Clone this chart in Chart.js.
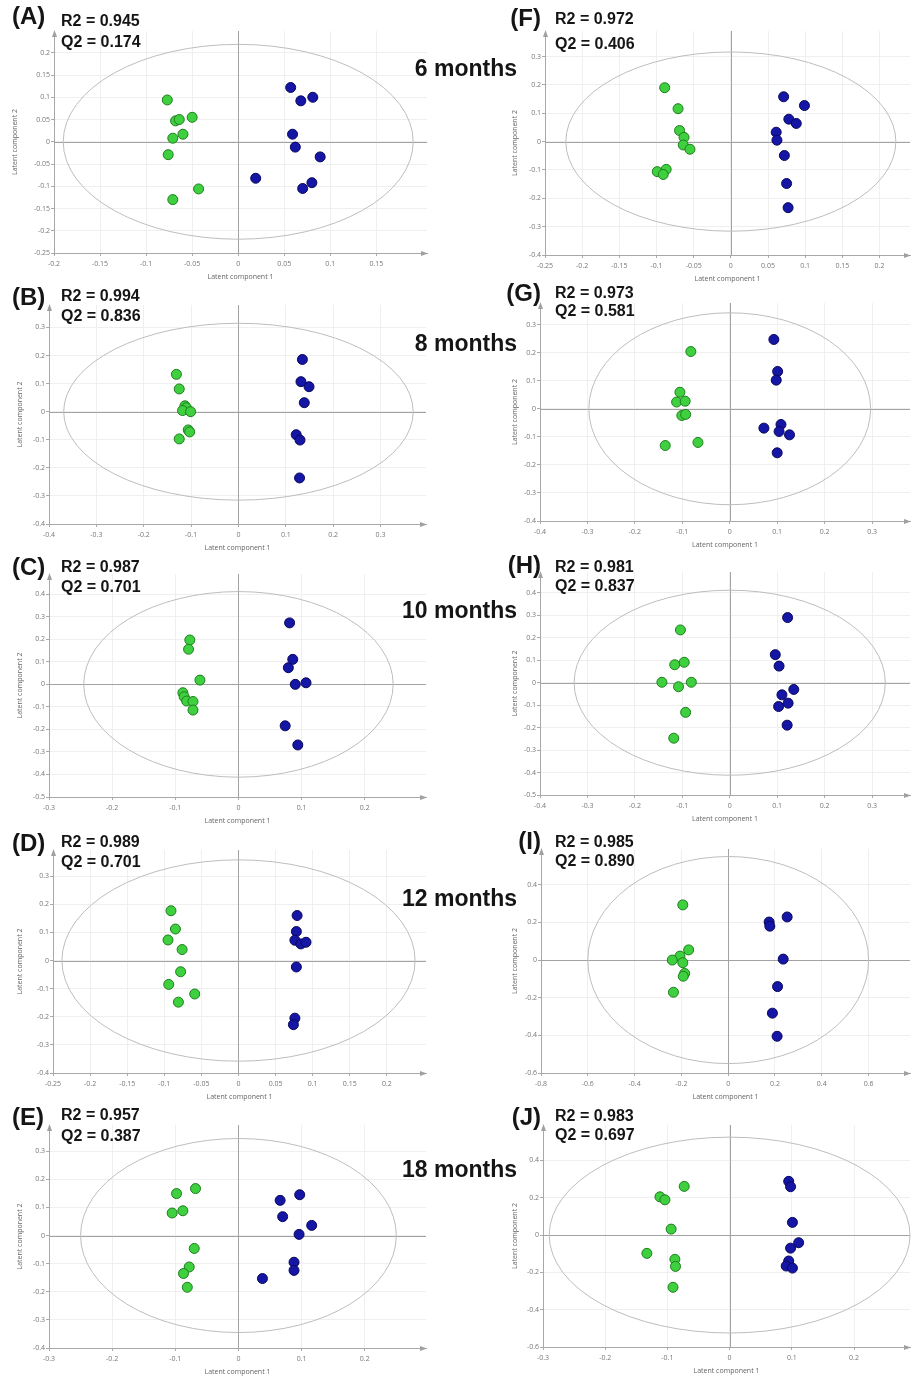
<!DOCTYPE html>
<html>
<head>
<meta charset="utf-8">
<title>PLS-DA score plots</title>
<script src="https://cdn.jsdelivr.net/npm/chart.js@4.4.1/dist/chart.umd.min.js"></script>
<style>
  body { margin: 0; background: #fff; width: 916px; height: 1379px; position: relative; overflow: hidden;
         font-family: "Liberation Sans", Arial, sans-serif; }
  canvas { position: absolute; }
  .txt { position: absolute; font-weight: bold; color: #151515; white-space: nowrap; line-height: 1; z-index: 2; }
  .letter { font-size: 24px; }
  .stat { font-size: 16px; }
  .month { font-size: 23px; text-align: right; }
</style>
</head>
<body>
<script>
// ---- data ----
var panelNames = ['A', 'B', 'C', 'D', 'E', 'F', 'G', 'H', 'I', 'J'];
var r2Values = ['0.945', '0.994', '0.987', '0.989', '0.957', '0.972', '0.973', '0.981', '0.985', '0.983'];
var q2Values = ['0.174', '0.836', '0.701', '0.701', '0.387', '0.406', '0.581', '0.837', '0.890', '0.697'];
var monthLabels = ['6 months', '8 months', '10 months', '12 months', '18 months'];
var xTitle = 'Latent component 1';
var yTitle = 'Latent component 2';

// green group / blue group scores, [component 1, component 2]
var greenA = [[-0.077, 0.094], [-0.068, 0.047], [-0.064, 0.050], [-0.050, 0.055], [-0.060, 0.017], [-0.071, 0.008], [-0.076, -0.029], [-0.043, -0.106], [-0.071, -0.130]];
var blueA  = [[0.057, 0.122], [0.068, 0.092], [0.081, 0.100], [0.059, 0.017], [0.062, -0.012], [0.089, -0.034], [0.019, -0.082], [0.080, -0.092], [0.070, -0.105]];
var greenB = [[-0.131, 0.133], [-0.125, 0.081], [-0.113, 0.021], [-0.110, 0.014], [-0.118, 0.004], [-0.101, 0.000], [-0.106, -0.065], [-0.103, -0.072], [-0.125, -0.097]];
var blueB  = [[0.135, 0.186], [0.132, 0.107], [0.149, 0.089], [0.139, 0.032], [0.122, -0.082], [0.130, -0.101], [0.129, -0.236]];
var greenC = [[-0.077, 0.197], [-0.079, 0.156], [-0.061, 0.019], [-0.088, -0.037], [-0.086, -0.055], [-0.082, -0.074], [-0.072, -0.076], [-0.072, -0.114]];
var blueC  = [[0.081, 0.273], [0.086, 0.111], [0.079, 0.074], [0.090, 0.000], [0.107, 0.007], [0.074, -0.184], [0.094, -0.269]];
var greenD = [[-0.091, 0.177], [-0.085, 0.112], [-0.095, 0.073], [-0.076, 0.039], [-0.078, -0.040], [-0.094, -0.085], [-0.059, -0.119], [-0.081, -0.148]];
var blueD  = [[0.079, 0.160], [0.078, 0.103], [0.076, 0.072], [0.084, 0.059], [0.091, 0.065], [0.078, -0.023], [0.076, -0.205], [0.074, -0.228]];
var greenE = [[-0.098, 0.149], [-0.068, 0.167], [-0.105, 0.080], [-0.088, 0.088], [-0.070, -0.046], [-0.078, -0.112], [-0.087, -0.135], [-0.081, -0.184]];
var blueE  = [[0.066, 0.125], [0.097, 0.145], [0.070, 0.067], [0.116, 0.036], [0.096, 0.004], [0.088, -0.095], [0.088, -0.124], [0.038, -0.153]];
var greenF = [[-0.089, 0.190], [-0.071, 0.116], [-0.069, 0.039], [-0.063, 0.015], [-0.064, -0.012], [-0.055, -0.027], [-0.099, -0.106], [-0.087, -0.098], [-0.091, -0.116]];
var blueF  = [[0.071, 0.158], [0.099, 0.127], [0.078, 0.079], [0.088, 0.064], [0.061, 0.033], [0.062, 0.005], [0.072, -0.049], [0.075, -0.148], [0.077, -0.233]];
var greenG = [[-0.082, 0.204], [-0.105, 0.059], [-0.112, 0.024], [-0.094, 0.027], [-0.101, -0.024], [-0.093, -0.020], [-0.136, -0.131], [-0.067, -0.120]];
var blueG  = [[0.093, 0.247], [0.101, 0.133], [0.098, 0.102], [0.072, -0.069], [0.108, -0.056], [0.104, -0.081], [0.126, -0.093], [0.100, -0.157]];
var greenH = [[-0.104, 0.235], [-0.116, 0.080], [-0.096, 0.091], [-0.143, 0.002], [-0.081, 0.002], [-0.108, -0.018], [-0.093, -0.132], [-0.118, -0.247]];
var blueH  = [[0.122, 0.290], [0.096, 0.125], [0.104, 0.074], [0.135, -0.030], [0.110, -0.054], [0.123, -0.091], [0.103, -0.106], [0.121, -0.189]];
var greenI = [[-0.194, 0.293], [-0.169, 0.054], [-0.206, 0.021], [-0.239, 0.000], [-0.194, -0.014], [-0.186, -0.071], [-0.192, -0.086], [-0.234, -0.171]];
var blueI  = [[0.175, 0.202], [0.178, 0.180], [0.252, 0.229], [0.235, 0.005], [0.211, -0.141], [0.189, -0.282], [0.209, -0.405]];
var greenJ = [[-0.073, 0.261], [-0.112, 0.205], [-0.104, 0.189], [-0.094, 0.032], [-0.133, -0.098], [-0.088, -0.130], [-0.087, -0.168], [-0.091, -0.280]];
var blueJ  = [[0.095, 0.288], [0.098, 0.259], [0.101, 0.068], [0.111, -0.041], [0.098, -0.070], [0.095, -0.139], [0.091, -0.166], [0.101, -0.177]];

// Hotelling ellipse half-axes per panel [component 1, component 2]
var ellipseAxes = [[0.190, 0.219], [0.369, 0.315], [0.245, 0.412], [0.238, 0.358], [0.250, 0.345],
                   [0.222, 0.316], [0.297, 0.342], [0.328, 0.412], [0.600, 0.550], [0.290, 0.525]];

// tick labels shown on each axis
var xTicks = [
  [-0.2, -0.15, -0.1, -0.05, 0, 0.05, 0.1, 0.15],
  [-0.4, -0.3, -0.2, -0.1, 0, 0.1, 0.2, 0.3],
  [-0.3, -0.2, -0.1, 0, 0.1, 0.2],
  [-0.25, -0.2, -0.15, -0.1, -0.05, 0, 0.05, 0.1, 0.15, 0.2],
  [-0.3, -0.2, -0.1, 0, 0.1, 0.2],
  [-0.25, -0.2, -0.15, -0.1, -0.05, 0, 0.05, 0.1, 0.15, 0.2],
  [-0.4, -0.3, -0.2, -0.1, 0, 0.1, 0.2, 0.3],
  [-0.4, -0.3, -0.2, -0.1, 0, 0.1, 0.2, 0.3],
  [-0.8, -0.6, -0.4, -0.2, 0, 0.2, 0.4, 0.6],
  [-0.3, -0.2, -0.1, 0, 0.1, 0.2]
];
var yTicks = [
  [-0.25, -0.2, -0.15, -0.1, -0.05, 0, 0.05, 0.1, 0.15, 0.2],
  [-0.4, -0.3, -0.2, -0.1, 0, 0.1, 0.2, 0.3],
  [-0.5, -0.4, -0.3, -0.2, -0.1, 0, 0.1, 0.2, 0.3, 0.4],
  [-0.4, -0.3, -0.2, -0.1, 0, 0.1, 0.2, 0.3],
  [-0.4, -0.3, -0.2, -0.1, 0, 0.1, 0.2, 0.3],
  [-0.4, -0.3, -0.2, -0.1, 0, 0.1, 0.2, 0.3],
  [-0.4, -0.3, -0.2, -0.1, 0, 0.1, 0.2, 0.3],
  [-0.5, -0.4, -0.3, -0.2, -0.1, 0, 0.1, 0.2, 0.3, 0.4],
  [-0.6, -0.4, -0.2, 0, 0.2, 0.4],
  [-0.6, -0.4, -0.2, 0, 0.2, 0.4]
];

var greens = [greenA, greenB, greenC, greenD, greenE, greenF, greenG, greenH, greenI, greenJ];
var blues  = [blueA, blueB, blueC, blueD, blueE, blueF, blueG, blueH, blueI, blueJ];

// ---- layout: plot rectangle in page px, axis ranges, text rows ----
var panels = [
  { col: 0, l: 54,  t: 31,   r: 427, b: 253,  x: [-0.2, 0.205],   y: [-0.25, 0.249], titleX: 15,  letterY: 16,   r2Y: 21,   q2Y: 42 },
  { col: 0, l: 49,  t: 305,  r: 426, b: 524,  x: [-0.4, 0.396],   y: [-0.4, 0.38],   titleX: 20,  letterY: 297,  r2Y: 296,  q2Y: 316 },
  { col: 0, l: 49,  t: 574,  r: 426, b: 797,  x: [-0.3, 0.297],   y: [-0.5, 0.49],   titleX: 20,  letterY: 567,  r2Y: 567,  q2Y: 587 },
  { col: 0, l: 53,  t: 850,  r: 426, b: 1073, x: [-0.25, 0.2527], y: [-0.4, 0.393],  titleX: 20,  letterY: 843,  r2Y: 842,  q2Y: 862 },
  { col: 0, l: 49,  t: 1125, r: 426, b: 1348, x: [-0.3, 0.297],   y: [-0.4, 0.393],  titleX: 20,  letterY: 1117, r2Y: 1115, q2Y: 1136 },
  { col: 1, l: 545, t: 31,   r: 914, b: 255,  x: [-0.25, 0.241],  y: [-0.4, 0.39],   titleX: 515, letterY: 18,   r2Y: 19,   q2Y: 44 },
  { col: 1, l: 540, t: 303,  r: 915, b: 521,  x: [-0.4, 0.38],    y: [-0.4, 0.377],  titleX: 515, letterY: 293,  r2Y: 293,  q2Y: 311 },
  { col: 1, l: 540, t: 572,  r: 915, b: 795,  x: [-0.4, 0.38],    y: [-0.5, 0.493],  titleX: 515, letterY: 565,  r2Y: 567,  q2Y: 586 },
  { col: 1, l: 541, t: 849,  r: 915, b: 1073, x: [-0.8, 0.777],   y: [-0.6, 0.59],   titleX: 515, letterY: 841,  r2Y: 842,  q2Y: 861 },
  { col: 1, l: 543, t: 1125, r: 915, b: 1347, x: [-0.3, 0.29],    y: [-0.6, 0.59],   titleX: 515, letterY: 1117, r2Y: 1116, q2Y: 1135 }
];
var monthY = [68, 343, 610, 898, 1169];

var tickFont = { family: 'Open Sans', size: 7 };

// crosshair at 0, confidence ellipse and axis arrows
var pcaDecor = {
  id: 'pcaDecor',
  beforeDatasetsDraw: function(chart, args, opts) {
    var ctx = chart.ctx, a = chart.chartArea;
    var xs = chart.scales.x, ys = chart.scales.y;
    var x0 = xs.getPixelForValue(0), y0 = ys.getPixelForValue(0);
    var rx = Math.abs(xs.getPixelForValue(opts.rx) - x0);
    var ry = Math.abs(ys.getPixelForValue(opts.ry) - y0);
    ctx.save();
    ctx.beginPath();
    ctx.rect(a.left, a.top - 2, a.right - a.left + 2, a.bottom - a.top + 2);
    ctx.clip();
    ctx.lineWidth = 1;
    ctx.strokeStyle = '#a3a3a3';
    ctx.beginPath();
    ctx.moveTo(Math.round(x0) + 0.5, a.top);
    ctx.lineTo(Math.round(x0) + 0.5, a.bottom);
    ctx.moveTo(a.left, Math.round(y0) + 0.5);
    ctx.lineTo(a.right, Math.round(y0) + 0.5);
    ctx.stroke();
    ctx.strokeStyle = '#bdbdbd';
    ctx.beginPath();
    ctx.ellipse(x0, y0, rx, ry, 0, 0, Math.PI * 2);
    ctx.stroke();
    ctx.restore();
  },
  afterDraw: function(chart) {
    var ctx = chart.ctx, a = chart.chartArea;
    ctx.save();
    ctx.fillStyle = '#a0a0a0';
    ctx.beginPath();
    ctx.moveTo(a.right + 1, a.bottom + 0.5);
    ctx.lineTo(a.right - 6, a.bottom - 2);
    ctx.lineTo(a.right - 6, a.bottom + 3);
    ctx.fill();
    ctx.beginPath();
    ctx.moveTo(a.left + 0.5, a.top - 1);
    ctx.lineTo(a.left - 2, a.top + 6);
    ctx.lineTo(a.left + 3, a.top + 6);
    ctx.fill();
    ctx.restore();
  }
};

function toPoints(arr) {
  return arr.map(function(p) { return { x: p[0], y: p[1] }; });
}

function fmt(v) {
  return String(Math.round(v * 1000) / 1000);
}

function addText(cls, text, left, top, right) {
  var d = document.createElement('div');
  d.className = 'txt ' + cls;
  d.textContent = text;
  if (right != null) d.style.right = right + 'px';
  else d.style.left = left + 'px';
  d.style.top = top + 'px';
  document.body.appendChild(d);
}

panels.forEach(function(p, i) {
  var cLeft = p.col === 0 ? 0 : 500;
  var cWidth = p.col === 0 ? 440 : 416;
  var cTop = p.t - 6;
  var cHeight = (p.b + 30) - cTop;

  var canvas = document.createElement('canvas');
  canvas.width = cWidth;
  canvas.height = cHeight;
  canvas.style.left = cLeft + 'px';
  canvas.style.top = cTop + 'px';
  document.body.appendChild(canvas);

  var yWidth = p.l - cLeft;
  var xHeight = 30;

  new Chart(canvas.getContext('2d'), {
    type: 'scatter',
    data: {
      datasets: [
        {
          label: 'green',
          data: toPoints(greens[i]),
          backgroundColor: '#3fd03f',
          borderColor: '#1e7d1e',
          borderWidth: 1,
          pointRadius: 5
        },
        {
          label: 'blue',
          data: toPoints(blues[i]),
          backgroundColor: '#1616a6',
          borderColor: '#08085a',
          borderWidth: 1,
          pointRadius: 5
        }
      ]
    },
    options: {
      responsive: false,
      animation: false,
      events: [],
      layout: { padding: { top: p.t - cTop, right: cLeft + cWidth - p.r, left: 0, bottom: 0 } },
      plugins: {
        legend: { display: false },
        tooltip: { enabled: false },
        pcaDecor: { rx: ellipseAxes[i][0], ry: ellipseAxes[i][1] }
      },
      scales: {
        x: {
          type: 'linear',
          min: p.x[0],
          max: p.x[1],
          afterFit: function(s) { s.height = xHeight; },
          afterBuildTicks: function(s) { s.ticks = xTicks[i].map(function(v) { return { value: v }; }); },
          ticks: { autoSkip: false, maxRotation: 0, color: '#777', font: tickFont, padding: 4, callback: fmt },
          grid: { color: '#efefef', tickColor: '#aaa', tickLength: 3 },
          border: { color: '#a8a8a8' },
          title: { display: true, text: xTitle, color: '#666', font: tickFont, padding: { top: 0, bottom: 1.8 } }
        },
        y: {
          type: 'linear',
          min: p.y[0],
          max: p.y[1],
          afterFit: function(s) { s.width = yWidth; },
          afterBuildTicks: function(s) { s.ticks = yTicks[i].map(function(v) { return { value: v }; }); },
          ticks: { autoSkip: false, color: '#777', font: tickFont, padding: 1, callback: fmt },
          grid: { color: '#efefef', tickColor: '#aaa', tickLength: 3 },
          border: { color: '#a8a8a8' },
          title: { display: true, text: yTitle, color: '#666', font: tickFont,
                   padding: { top: p.titleX - cLeft - 4.2, bottom: 0 } }
        }
      }
    },
    plugins: [pcaDecor]
  });

  // panel letter, R2, Q2
  var name = '(' + panelNames[i] + ')';
  if (p.col === 0) addText('letter', name, 12, p.letterY - 12);
  else addText('letter', name, null, p.letterY - 12, 916 - 541);
  var sx = p.col === 0 ? 61 : 555;
  addText('stat', 'R2 = ' + r2Values[i], sx, p.r2Y - 8);
  addText('stat', 'Q2 = ' + q2Values[i], sx, p.q2Y - 8);
});

monthLabels.forEach(function(m, k) {
  addText('month', m, null, monthY[k] - 11, 916 - 517);
});
</script>
</body>
</html>
